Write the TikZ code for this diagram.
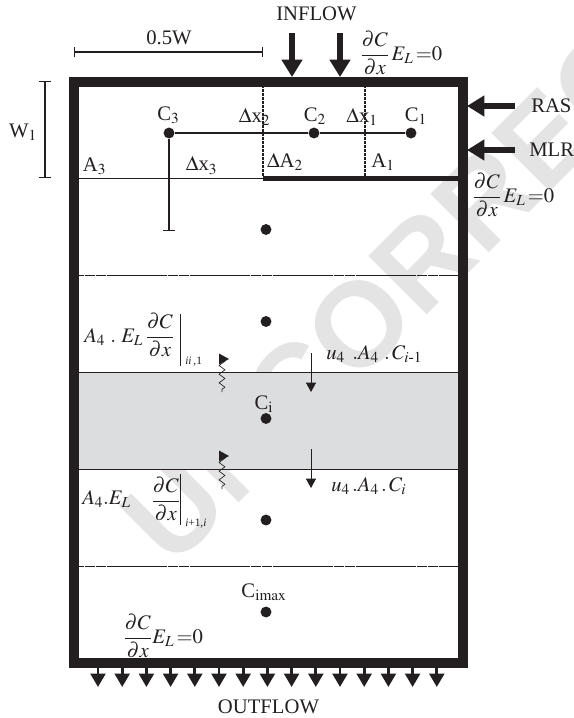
\documentclass[tikz,border=0pt]{standalone}
\usepackage{amsmath}
\usepackage{mathptmx}
\usepackage[no-math]{fontspec}
\setmainfont{Liberation Serif}
\newfontfamily\markfont{Liberation Sans}
\usetikzlibrary{arrows.meta, decorations.pathmorphing}
\definecolor{bandgray}{RGB}{220,221,222}
\definecolor{markgray}{RGB}{228,228,228}
\definecolor{inkblack}{RGB}{35,31,32}
\tikzset{
    lbl/.style={inner sep=0pt, text=inkblack, font=\fontsize{15.5}{18}\selectfont},
    sublbl/.style={inner sep=0pt, text=inkblack, anchor=west, font=\fontsize{8.5}{10}\selectfont},
    dotnode/.style={circle, fill=inkblack, inner sep=0pt, minimum size=8.2pt},
    bigarrow/.style={draw=inkblack, line width=4.5pt, -{Triangle[length=13pt, width=15pt]}},
    outarrow/.style={draw=inkblack, line width=2.2pt, -{Triangle[length=10pt, width=11pt]}},
    smallarrow/.style={draw=inkblack, line width=0.6pt, -{Triangle[length=7pt, width=7.5pt]}},
    thinline/.style={draw=inkblack, line width=0.6pt},
    sepline/.style={draw=inkblack, line width=0.7pt, dash pattern=on 4pt off 0.15pt},
    cellline/.style={draw=inkblack, line width=1pt, dash pattern=on 1.5pt off 0.5pt on 0.5pt off 0.5pt},
    wiggle/.style={draw=inkblack, line width=0.5pt, decorate, decoration={zigzag, amplitude=2.2pt, segment length=6.5pt}}
}
\begin{document}
\begin{tikzpicture}[x=0.75pt, y=-0.75pt]
    \clip (0,0) rectangle (574,718);

    % Watermark
    \node[rotate=45, anchor=base west, inner sep=0pt, text=markgray, font=\markfont\bfseries\fontsize{90}{90}\selectfont] (mark) at (172,570) {UNCORRECTED PROOF};

    % Band
    \fill[bandgray] (79,372) rectangle (458,469);

    % Cell lines
    \draw[thinline] (79,178.5) -- (263,178.5);
    \draw[sepline] (79,275) -- (458,275);
    \draw[thinline] (79,372) -- (458,372);
    \draw[thinline] (79,469) -- (458,469);
    \draw[sepline] (79,566) -- (458,566);
    \draw[draw=inkblack, line width=4.2pt] (263,178.5) -- (458,178.5);
    \draw[cellline] (263,86) -- (263,176);
    \draw[cellline] (365,86) -- (365,176);

    % Frame
    \draw[draw=inkblack, line width=7.5pt, line join=miter] (74,81.5) rectangle (462.5,663);

    % Dots
    \node[dotnode] (c3) at (169,133) {};
    \node[dotnode] (c2) at (314,133) {};
    \node[dotnode] (c1) at (411,133) {};
    \node[dotnode] (d2) at (266,229.5) {};
    \node[dotnode] (d3) at (266,321.5) {};
    \node[dotnode] (di) at (266,418.5) {};
    \node[dotnode] (d5) at (266,520) {};
    \node[dotnode] (dmax) at (266,612) {};

    \coordinate (c3end) at (169,231);
    \draw[draw=inkblack, line width=1pt] (c3) -- (c2) -- (c1);
    \draw[draw=inkblack, line width=1pt, -{Bar[width=9pt]}] (c3) -- (c3end);

    % Dimensions
    \coordinate (wl) at (74,52);
    \coordinate (wr) at (263,52);
    \draw[draw=inkblack, line width=0.8pt, {Bar[width=8pt]}-{Bar[width=8pt]}] (wl) -- (wr);
    \node[lbl] (halfw) at (169,38) {0.5W};
    \coordinate (wt) at (45,81);
    \coordinate (wb) at (45,178);
    \draw[draw=inkblack, line width=0.8pt, {Bar[width=9pt]}-{Bar[width=9pt]}] (wt) -- (wb);
    \node[lbl] (w1) at (23,132) {W$_1$};

    % Inflow
    \node[lbl] (inflow) at (316.5,14) {INFLOW};
    \foreach \name/\x in {ia/292, ib/340} {
        \coordinate (\name s) at (\x,33);
        \coordinate (\name e) at (\x,77);
        \draw[bigarrow] (\name s) -- (\name e);
    }
    \node[lbl, anchor=west] (topbc) at (360,53) {$\dfrac{\partial C}{\partial x}\,E_L\,{=}0$};

    % Side arrows
    \coordinate (rass) at (515,106);
    \coordinate (rase) at (467,106);
    \coordinate (mlrs) at (515,150);
    \coordinate (mlre) at (467,150);
    \draw[bigarrow] (rass) -- (rase);
    \draw[bigarrow] (mlrs) -- (mlre);
    \node[lbl, anchor=west] (ras) at (531,106) {RAS};
    \node[lbl, anchor=west] (mlr) at (529,150) {MLR};
    \node[lbl, anchor=west] (sidebc) at (472,195) {$\dfrac{\partial C}{\partial x}\,E_L\,{=}0$};

    % Top labels
    \node[lbl] (lc3) at (168.5,115) {C$_3$};
    \node[lbl] (ldx2) at (254.5,117) {$\Delta$x$_2$};
    \node[lbl] (lc2) at (315,116) {C$_2$};
    \node[lbl] (ldx1) at (362,117) {$\Delta$x$_1$};
    \node[lbl] (lc1) at (416,116) {C$_1$};
    \node[lbl] (la3) at (94.5,166) {A$_3$};
    \node[lbl] (ldx3) at (201.5,165.5) {$\Delta$x$_3$};
    \node[lbl] (lda2) at (285,162) {$\Delta$A$_2$};
    \node[lbl] (la1) at (383,162) {A$_1$};

    % Flux labels
    \node[lbl, anchor=west] (flux1) at (84,335) {$A_4\ .\ E_L\,\dfrac{\partial C}{\partial x}$};
    \coordinate (b1t) at (180,314);
    \coordinate (b1b) at (180,366);
    \draw[draw=inkblack, line width=0.7pt] (b1t) -- (b1b);
    \node[sublbl] (sub1) at (185,362) {\itshape ii\,,\upshape 1};

    \node[lbl, anchor=west] (flux2) at (82,499) {$A_4.E_L$};
    \node[lbl, anchor=west] (frac2) at (151,499) {$\dfrac{\partial C}{\partial x}$};
    \coordinate (b2t) at (180,474);
    \coordinate (b2b) at (180,525);
    \draw[draw=inkblack, line width=0.7pt] (b2t) -- (b2b);
    \node[sublbl] (sub2) at (185,524) {\itshape i\upshape +1,\itshape i};

    % Velocity terms
    \coordinate (v1s) at (311,353);
    \coordinate (v1e) at (311,392);
    \coordinate (v2s) at (311,449);
    \coordinate (v2e) at (311,488);
    \draw[smallarrow] (v1s) -- (v1e);
    \draw[smallarrow] (v2s) -- (v2e);
    \node[lbl, anchor=west] (adv1) at (326,354) {$u_4\ \,.A_4\ .\,C_{i\text{-}1}$};
    \node[lbl, anchor=west] (adv2) at (331,486) {$u_4\,.A_4\,.\,C_i$};

    % Diffusion arrows
    \foreach \name/\y/\yb in {za/359/392, zb/456/489} {
        \coordinate (\name t) at (222,\y);
        \coordinate (\name b) at (222,\yb);
        \draw[wiggle] (\name t) -- (\name b);
        \fill[inkblack] (219,\y-5.5) -- (229,\y) -- (219,\y+5.5) -- cycle;
    }

    % Bottom
    \node[lbl] (lci) at (264,404) {C$_{\mathrm{i}}$};
    \node[lbl] (lcmax) at (264,592) {C$_{\mathrm{imax}}$};
    \node[lbl, anchor=west] (botbc) at (123,636) {$\dfrac{\partial C}{\partial x}E_L\,{=}0$};

    % Outflow
    \foreach \i in {0,...,14} {
        \coordinate (os\i) at (98+24.2*\i,668);
        \coordinate (oe\i) at (98+24.2*\i,687);
        \draw[outarrow] (os\i) -- (oe\i);
    }
    \node[lbl] (outflow) at (268.5,707) {OUTFLOW};
\end{tikzpicture}
\end{document}
